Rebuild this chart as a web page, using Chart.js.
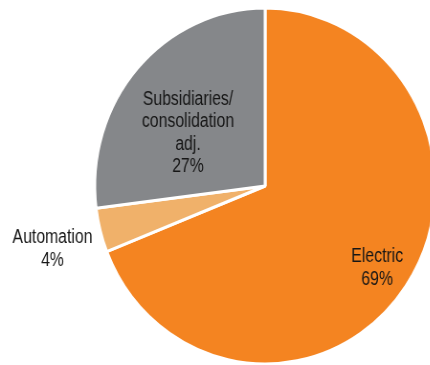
<!DOCTYPE html>
<html>
<head>
<meta charset="utf-8">
<script src="https://cdn.jsdelivr.net/npm/chart.js@4/dist/chart.umd.min.js"></script>
<style>
  html, body { margin: 0; padding: 0; background: #ffffff; }
  body { width: 430px; height: 365px; overflow: hidden; position: relative; }
  #wrap { position: absolute; left: 0; top: 0; width: 554px; height: 365px;
          transform: scaleX(0.957); transform-origin: 0 0; }
</style>
</head>
<body>
<div id="wrap"><canvas id="c" width="554" height="365"></canvas></div>
<script>
// Segment names (one entry per line of the label) and their shares in percent
const categories = [['Electric'], ['Automation'], ['Subsidiaries/', 'consolidation', 'adj.']];
const shares = [69, 4, 27];
const sliceColors = ['#F48421', '#F0B16A', '#85878A'];

// Where each label sits: angle shift from the slice middle (degrees) and distance as a share of the radius
const labelPlacement = [
  { shift: 0.8, dist: 0.803 },
  { shift: -1.4, dist: 1.297 },
  { shift: -8, dist: 0.542 }
];

const sliceLabels = {
  id: 'sliceLabels',
  afterDatasetsDraw(chart) {
    const ctx = chart.ctx;
    const meta = chart.getDatasetMeta(0);
    const values = chart.data.datasets[0].data;
    meta.data.forEach((arc, i) => {
      const p = arc.getProps(['x', 'y', 'startAngle', 'endAngle', 'outerRadius'], true);
      const place = labelPlacement[i];
      const a = (p.startAngle + p.endAngle) / 2 + place.shift * Math.PI / 180;
      const lx = p.x + Math.cos(a) * p.outerRadius * place.dist;
      const ly = p.y + Math.sin(a) * p.outerRadius * place.dist;
      const lines = categories[i].concat([values[i] + '%']);
      const lh = 22.5;
      ctx.save();
      ctx.translate(lx, ly);
      ctx.scale(0.825, 1);
      ctx.font = '20px "Liberation Sans", Arial, sans-serif';
      ctx.fillStyle = '#161616';
      ctx.textAlign = 'center';
      ctx.textBaseline = 'middle';
      lines.forEach((t, k) => {
        ctx.fillText(t, 0, (k - (lines.length - 1) / 2) * lh);
      });
      ctx.restore();
    });
  }
};

new Chart(document.getElementById('c'), {
  type: 'pie',
  data: {
    labels: categories.map(l => l.join(' ')),
    datasets: [{
      data: shares,
      backgroundColor: sliceColors,
      borderColor: '#ffffff',
      borderWidth: 3
    }]
  },
  options: {
    responsive: false,
    devicePixelRatio: 1,
    animation: false,
    radius: 178,
    layout: { padding: { top: 7, bottom: 0, left: 0, right: 0 } },
    plugins: {
      legend: { display: false },
      tooltip: { enabled: false }
    }
  },
  plugins: [sliceLabels]
});
</script>
</body>
</html>
